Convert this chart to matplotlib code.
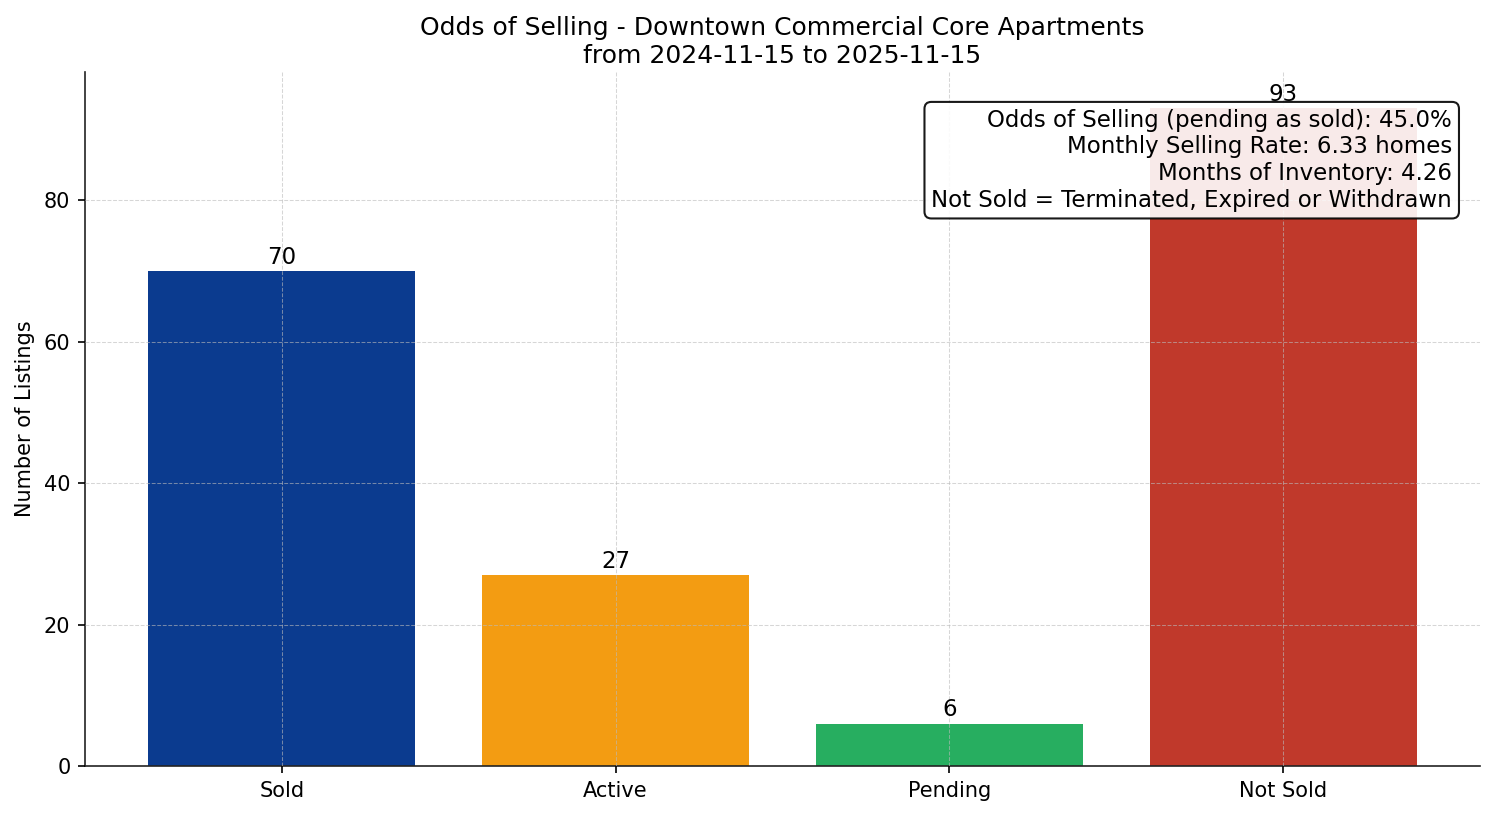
import matplotlib
matplotlib.use("Agg")
import matplotlib.pyplot as plt

categories = ["Sold", "Active", "Pending", "Not Sold"]
counts = [70, 27, 6, 93]
colors = ["#0B3B8F", "#F39C12", "#27AE60", "#C0392B"]
title = "Odds of Selling - Downtown Commercial Core Apartments\nfrom 2024-11-15 to 2025-11-15"
info_lines = [
    "Odds of Selling (pending as sold): 45.0%",
    "Monthly Selling Rate: 6.33 homes",
    "Months of Inventory: 4.26",
    "Not Sold = Terminated, Expired or Withdrawn",
]

fig, ax = plt.subplots(figsize=(9.96, 5.44), dpi=150)
fig.subplots_adjust(left=85/1494, right=1480/1494, top=1-72/816, bottom=1-766/816)
bars = ax.bar(categories, counts, color=colors, width=0.8, zorder=1)
for b, v in zip(bars, counts):
    ax.annotate(str(v), (b.get_x() + b.get_width() / 2, v), xytext=(0, 1), textcoords="offset points",
                ha="center", va="bottom", fontsize=11, zorder=3)

ax.set_ylim(0, max(counts) * 1.055)
ax.set_title(title, fontsize=12, pad=4.5)
ax.set_ylabel("Number of Listings", fontsize=10)
ax.tick_params(labelsize=10)
ax.grid(True, linestyle="--", linewidth=0.5, color="#bbbbbb", alpha=0.6, zorder=2)
ax.set_axisbelow(False)
for s in ["top", "right"]:
    ax.spines[s].set_visible(False)
for s in ["left", "bottom"]:
    ax.spines[s].set_color("#222222")

ax.text(0.98, 0.947, "\n".join(info_lines), transform=ax.transAxes, ha="right", va="top",
        fontsize=11, zorder=5,
        bbox=dict(boxstyle="round,pad=0.3", facecolor="white", edgecolor="black", alpha=0.9))

fig.savefig("out.png", dpi=150)
